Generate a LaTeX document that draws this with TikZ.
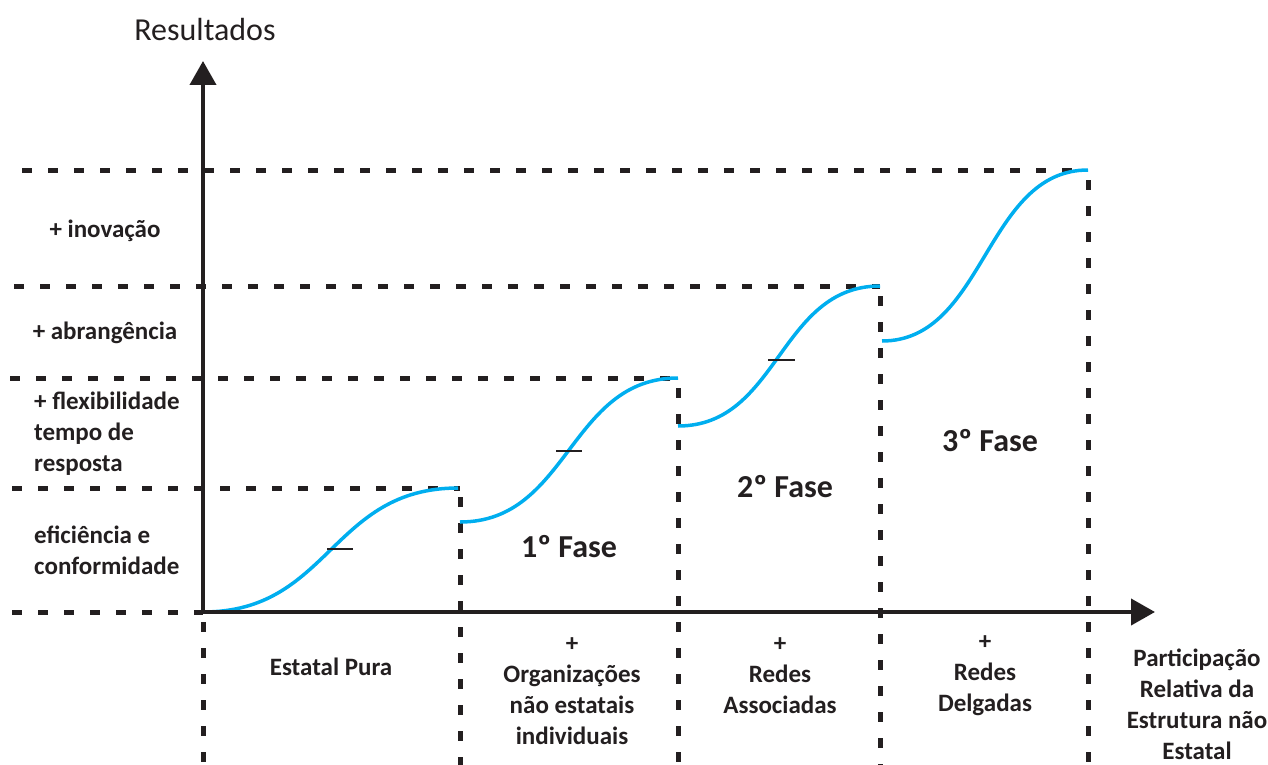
\documentclass[tikz,border=0pt]{standalone}
\usepackage{fontspec}
\setmainfont{Carlito}
\usetikzlibrary{arrows.meta}
\definecolor{curvecol}{HTML}{00AEEF}
\definecolor{ink}{HTML}{231F20}
\tikzset{
  guide/.style={ink, line width=5pt, dash pattern=on 10pt off 16pt},
  axisline/.style={ink, line width=4pt, -{Triangle[length=24pt,width=26pt]}},
  scurve/.style={curvecol, line width=3.5pt},
  tickmark/.style={ink, line width=1.5pt},
  lbl/.style={inner sep=0pt, font=\bfseries\fontsize{25}{31}\selectfont, text=ink},
  phase/.style={inner sep=0pt, font=\bfseries\fontsize{32}{38}\selectfont, text=ink},
}
\begin{document}
\begin{tikzpicture}[x=1pt,y=-1pt]
\useasboundingbox (0,0) rectangle (1268,765);
% coordinates
\coordinate (O) at (203,612);
\coordinate (Ytop) at (203,61);
\coordinate (Xend) at (1155,612);
% horizontal guides
\coordinate (h1a) at (22,170);  \coordinate (h1b) at (1088,170);
\coordinate (h2a) at (14,286);  \coordinate (h2b) at (880,286);
\coordinate (h3a) at (10,378);  \coordinate (h3b) at (678,378);
\coordinate (h4a) at (12,488);  \coordinate (h4b) at (460,488);
\coordinate (h5a) at (12,612);
\draw[guide] (h1a) -- (h1b);
\draw[guide] (h2a) -- (h2b);
\draw[guide] (h3a) -- (h3b);
\draw[guide] (h4a) -- (h4b);
\draw[guide] (h5a) -- (O);
% vertical guides
\coordinate (v0a) at (203,622); \coordinate (v0b) at (203,765);
\coordinate (v1a) at (460,497); \coordinate (v1b) at (460,765);
\coordinate (v2a) at (678,388); \coordinate (v2b) at (678,765);
\coordinate (v3a) at (880,296); \coordinate (v3b) at (880,765);
\coordinate (v4a) at (1088,180); \coordinate (v4b) at (1088,765);
\draw[guide] (v0a) -- (v0b);
\draw[guide] (v1a) -- (v1b);
\draw[guide] (v2a) -- (v2b);
\draw[guide] (v3a) -- (v3b);
\draw[guide] (v4a) -- (v4b);
% curves
\coordinate (c1a) at (203,612); \coordinate (c1b) at (458,488);
\coordinate (c2a) at (460,522); \coordinate (c2b) at (678,378);
\coordinate (c3a) at (678,426); \coordinate (c3b) at (880,286);
\coordinate (c4a) at (882,341); \coordinate (c4b) at (1088,170);
\draw[scurve] (c1a) .. controls (330,612) and (331,488) .. (c1b);
\draw[scurve] (c2a) .. controls (569,522) and (569,378) .. (c2b);
\draw[scurve] (c3a) .. controls (779,426) and (779,286) .. (c3b);
\draw[scurve] (c4a) .. controls (985,341) and (985,170) .. (c4b);
% tick marks
\coordinate (t1a) at (327,549); \coordinate (t1b) at (353,549);
\coordinate (t2a) at (556,451); \coordinate (t2b) at (582,451);
\coordinate (t3a) at (768,360); \coordinate (t3b) at (795,360);
\draw[tickmark] (t1a) -- (t1b);
\draw[tickmark] (t2a) -- (t2b);
\draw[tickmark] (t3a) -- (t3b);
% axes
\draw[axisline] (O) -- (Ytop);
\draw[axisline] (O) -- (Xend);
% labels
\node[inner sep=0pt, font=\fontsize{32}{38}\selectfont, text=ink] (res) at (205,30) {Resultados};
\node[lbl] (inov) at (105,231) {+ inovação};
\node[lbl] (abr) at (105,333) {+ abrangência};
\node[lbl, align=left, anchor=west] (flex) at (34,434) {+ flexibilidade\\tempo de\\resposta};
\node[lbl, align=left, anchor=west] (efic) at (34,550) {eficiência e\\conformidade};
\node[phase] (f1) at (569,547) {1º Fase};
\node[phase] (f2) at (785,487) {2º Fase};
\node[phase] (f3) at (990,441) {3º Fase};
\node[lbl] (est) at (331,667) {Estatal Pura};
\node[lbl, align=center] (org) at (572,691) {+\\Organizações\\não estatais\\individuais};
\node[lbl, align=center] (ras) at (780,676) {+\\Redes\\Associadas};
\node[lbl, align=center] (rdl) at (985,676) {+\\Redes\\Delgadas};
\node[lbl, align=center] (part) at (1197,704) {Participação\\Relativa da\\Estrutura não\\Estatal};
\end{tikzpicture}
\end{document}
